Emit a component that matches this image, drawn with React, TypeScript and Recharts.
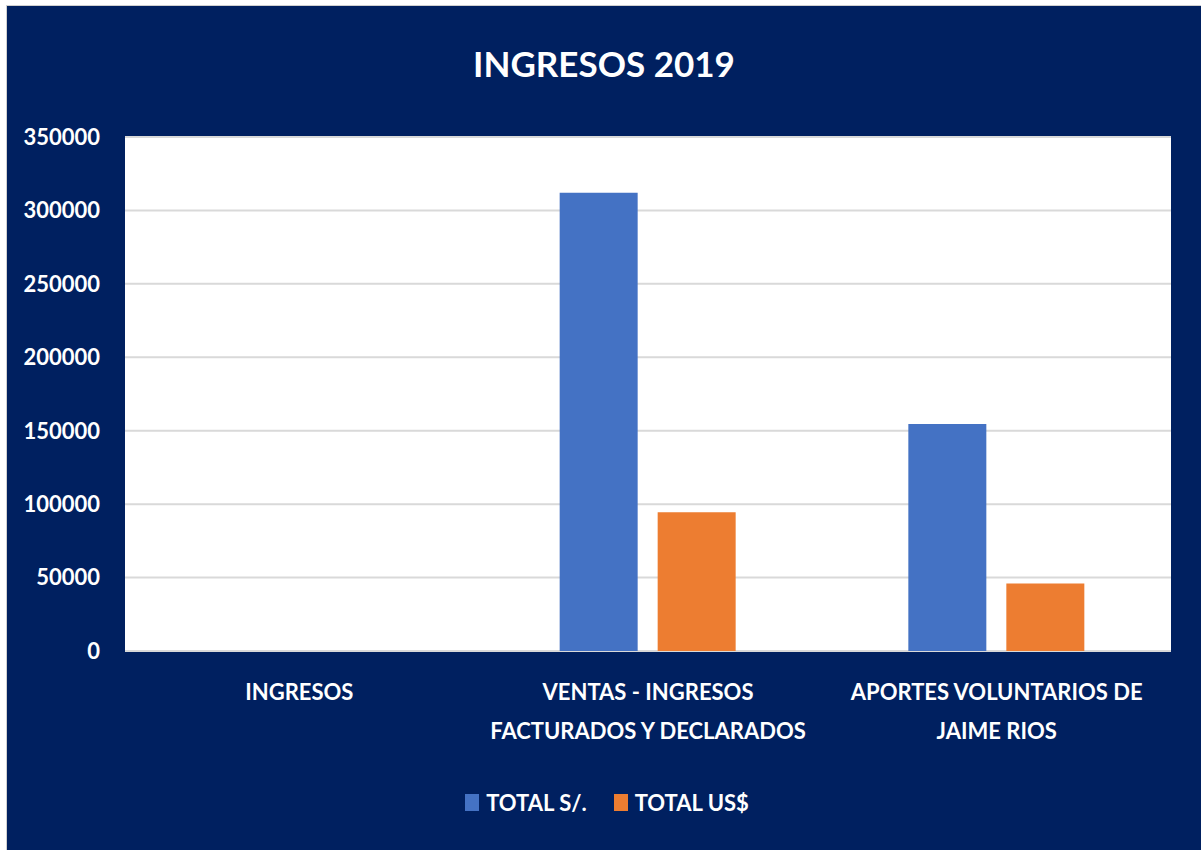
import { BarChart, Bar, XAxis, YAxis, CartesianGrid, Legend } from "recharts";

const categories = [
  "INGRESOS",
  "VENTAS - INGRESOS FACTURADOS Y DECLARADOS",
  "APORTES VOLUNTARIOS DE JAIME RIOS",
];
const totalSoles = [null, 312000, 154500];
const totalUsd = [null, 94500, 46000];
const yTicks = [0, 50000, 100000, 150000, 200000, 250000, 300000, 350000];

const NAVY = "#002060";
const FONT = "Lato, 'Liberation Sans', sans-serif";

const data = categories.map((name, i) => ({
  name,
  soles: totalSoles[i],
  usd: totalUsd[i],
}));

// greedy word wrap measured with canvas
function wrapLabel(label: string, maxWidth: number, font: string) {
  const ctx = document.createElement("canvas").getContext("2d");
  const measure = (s: string) => {
    if (!ctx) return s.length * 12;
    ctx.font = font;
    return ctx.measureText(s).width;
  };
  const words = label.split(" ");
  const lines: string[] = [];
  let cur = "";
  for (const w of words) {
    const next = cur ? cur + " " + w : w;
    if (cur && measure(next) > maxWidth) {
      lines.push(cur);
      cur = w;
    } else {
      cur = next;
    }
  }
  if (cur) lines.push(cur);
  return lines;
}

function CategoryTick(props: any) {
  const { x, y, payload } = props;
  const lines = wrapLabel(payload.value, 340, `700 22px ${FONT}`);
  return (
    <text
      x={x}
      y={y + 41}
      textAnchor="middle"
      fill="#fff"
      style={{ fontSize: 22, fontWeight: 700, fontFamily: FONT }}
    >
      {lines.map((l, i) => (
        <tspan key={i} x={x} dy={i === 0 ? 0 : 39}>
          {l}
        </tspan>
      ))}
    </text>
  );
}

function renderLegend(props: any) {
  const items = props.payload || [];
  return (
    <div style={{ display: "flex", justifyContent: "center", gap: 27 }}>
      {items.map((it: any) => (
        <div key={it.value} style={{ display: "flex", alignItems: "center", gap: 7 }}>
          <span style={{ width: 14, height: 17, background: it.color, display: "inline-block" }} />
          <span style={{ color: "#fff", fontSize: 22, fontWeight: 700, fontFamily: FONT }}>{it.value}</span>
        </div>
      ))}
    </div>
  );
}

export default function App() {
  return (
    <div style={{ position: "absolute", left: 0, top: 0, width: 1201, height: 850, background: "#fff" }}>
      <div
        style={{
          position: "absolute",
          left: 6,
          top: 5,
          width: 1195,
          height: 845,
          borderLeft: "1px solid #d0d0d0",
          borderTop: "1px solid #d0d0d0",
          boxSizing: "border-box",
        }}
      />
      <div style={{ position: "absolute", left: 7, top: 6, width: 1194, height: 844, background: NAVY }}>
        <div
          style={{
            position: "absolute",
            left: 0,
            top: 36,
            width: 1194,
            textAlign: "center",
            color: "#fff",
            fontFamily: FONT,
            fontWeight: 700,
            fontSize: 35,
          }}
        >
          INGRESOS 2019
        </div>
        <BarChart
          width={1194}
          height={844}
          data={data}
          margin={{ top: 131, right: 30, left: 8, bottom: 72 }}
          barSize={78}
          barGap={20}
        >
          <CartesianGrid vertical={false} stroke="#d9d9d9" strokeWidth={2} fill="#fff" fillOpacity={1} />
          <XAxis
            dataKey="name"
            axisLine={false}
            tickLine={false}
            interval={0}
            height={100}
            tick={<CategoryTick />}
          />
          <YAxis
            width={110}
            domain={[0, 350000]}
            ticks={yTicks}
            axisLine={false}
            tickLine={false}
            tickMargin={19}
            tick={{ fill: "#fff", fontSize: 22, fontWeight: 700, fontFamily: FONT }}
          />
          <Legend
            verticalAlign="bottom"
            content={renderLegend}
            wrapperStyle={{ top: 783, bottom: "auto", left: 8, width: 1184 }}
          />
          <Bar dataKey="soles" name="TOTAL S/." fill="#4472C4" isAnimationActive={false} />
          <Bar dataKey="usd" name="TOTAL US$" fill="#ED7D31" isAnimationActive={false} />
        </BarChart>
      </div>
    </div>
  );
}
